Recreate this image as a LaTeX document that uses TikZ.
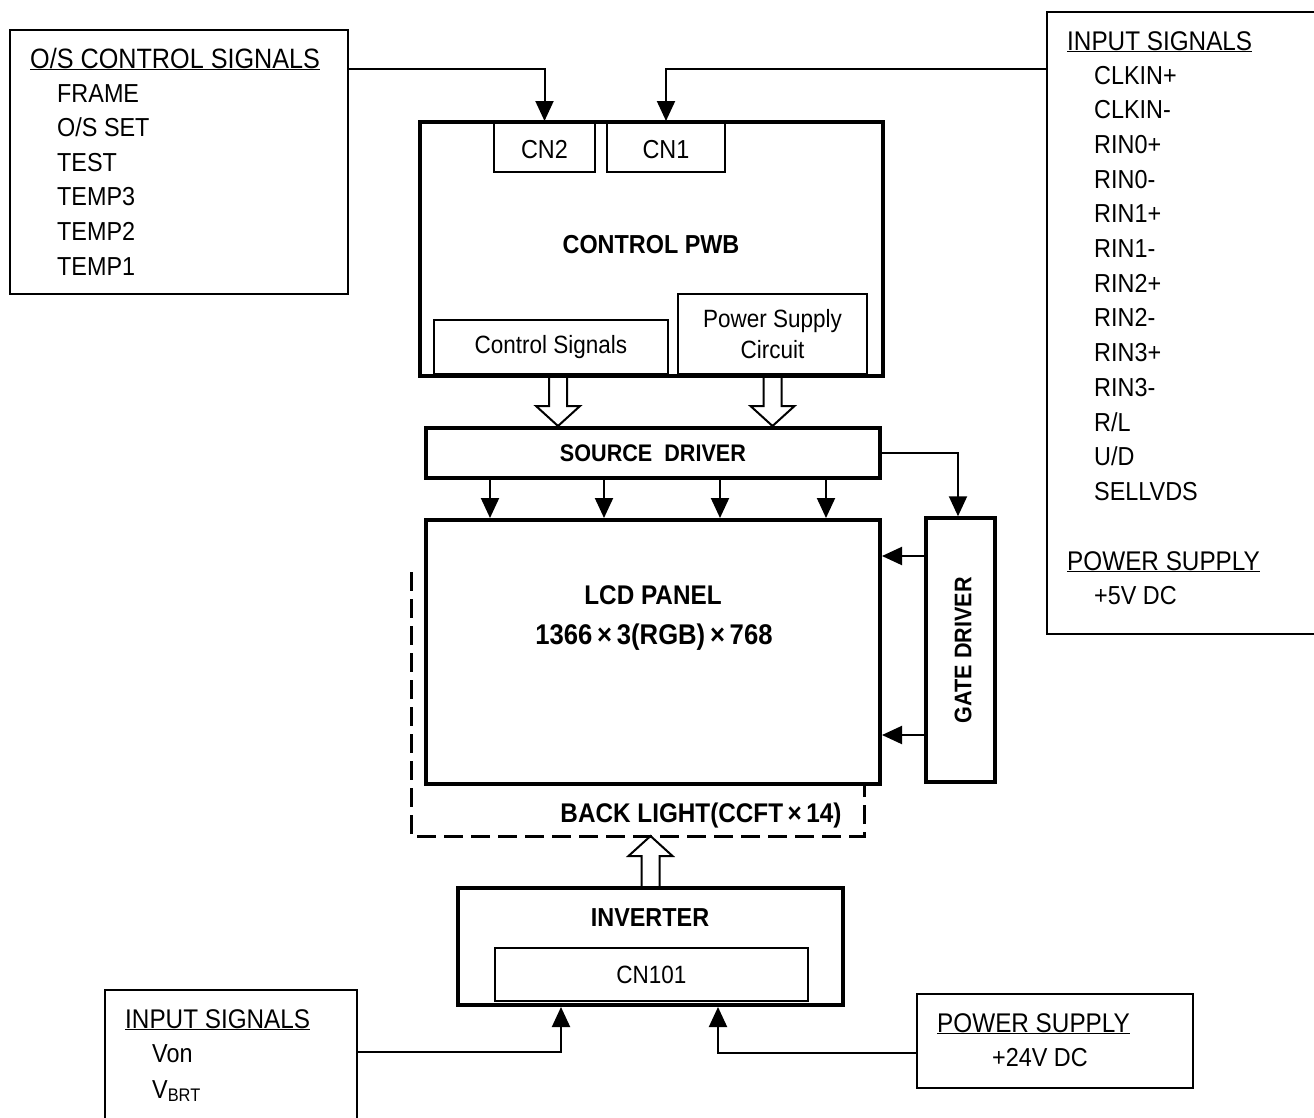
\documentclass[tikz,border=0pt]{standalone}
\usepackage{fontspec}
\setmainfont{Liberation Sans}[FakeStretch=0.9]
\usepackage{tikz}
\usetikzlibrary{arrows.meta, positioning, calc}

% hollow block arrow between two anchors (vertical)
\newcommand{\fatarrow}[2]{%
  \coordinate (fa-b) at (#1);
  \coordinate (fa-t) at (#2 -| fa-b);
  \coordinate (fa-h) at ($(fa-t)!20pt!(fa-b)$);
  \draw[hollow] ([xshift=-9pt]fa-b) -- ([xshift=-9pt]fa-h) -- ([xshift=-22pt]fa-h)
    -- (fa-t) -- ([xshift=22pt]fa-h) -- ([xshift=9pt]fa-h) -- ([xshift=9pt]fa-b);}

\begin{document}
\begin{tikzpicture}[
        x=1pt, y=-1pt,
        box/.style={draw, line width=2pt, inner sep=0pt},
        heavybox/.style={draw, line width=4pt, inner sep=0pt},
        item/.style={anchor=base west, inner sep=0pt, font=\fontsize{26}{30}\selectfont},
        head/.style={anchor=base west, inner sep=0pt, font=\fontsize{27}{32}\selectfont},
        sublabel/.style={inner sep=0pt, align=center, font=\fontsize{25}{31}\selectfont},
        title/.style={inner sep=0pt, font=\bfseries\fontsize{26}{30}\selectfont},
        arr/.style={-{Triangle[length=20pt, width=18pt]}, line width=2pt},
        hollow/.style={line width=2pt, line join=miter},
        dashline/.style={line width=3pt, dash pattern=on 19pt off 8pt},
    ]
        \clip (0,0) rectangle (1314,1117);

        % O/S control signals (top left)
        \node[box, minimum width=338, minimum height=264] (osbox) at (179,162) {};
        \node[head, font=\fontsize{28}{32}\selectfont] (oshead) at (30,68) {\underline{O/S CONTROL SIGNALS}};
        \foreach \t [count=\i] in {FRAME, O/S SET, TEST, TEMP3, TEMP2, TEMP1}
            \node[item] (os\i) at (57,{67.4+34.6*\i}) {\t};

        % input signals (top right)
        \node[box, minimum width=283, minimum height=622] (inbox) at (1188.5,323) {};
        \node[head] (inhead) at (1067,50) {\underline{INPUT SIGNALS}};
        \foreach \t [count=\i] in {CLKIN+, CLKIN-, RIN0+, RIN0-, RIN1+, RIN1-, RIN2+,
                RIN2-, RIN3+, RIN3-, R/L, U/D, SELLVDS}
            \node[item] (in\i) at (1094,{49.3+34.7*\i}) {\t};
        \node[head] (pshead) at (1067,570) {\underline{POWER SUPPLY}};
        \node[item] (ps5v) at (1094,604) {+5V DC};

        % control PWB
        \node[heavybox, minimum width=463, minimum height=254] (pwb) at (651.5,249) {};
        \node[box, minimum width=101, minimum height=50] (cn2) at (544.5,147) {};
        \node[item, anchor=center] at ([yshift=-3pt]cn2.center) {CN2};
        \node[box, minimum width=118, minimum height=50] (cn1) at (666,147) {};
        \node[item, anchor=center] at ([yshift=-3pt]cn1.center) {CN1};
        \node[title] (pwbtitle) at (651,245) {CONTROL PWB};
        \node[box, sublabel, minimum width=234, minimum height=54] (ctrlsig) at (551,347) {Control Signals};
        \node[box, sublabel, minimum width=189, minimum height=80] (pwrcirc) at (772.5,334) {Power Supply\\Circuit};

        % drivers and panel
        \node[heavybox, minimum width=454, minimum height=50, font=\bfseries\fontsize{24}{28}\selectfont]
            (srcdrv) at (653,453) {SOURCE\ \ DRIVER};
        \node[heavybox, minimum width=454, minimum height=264] (lcd) at (653,652) {};
        \node[title, font=\bfseries\fontsize{27}{30}\selectfont] (lcdtitle) at (653,595) {LCD PANEL};
        \node[title, font=\bfseries\fontsize{28.5}{32}\selectfont] (lcdres) at (654,637) {1366\,×\,3(RGB)\,×\,768};
        \node[heavybox, line width=3.5pt, minimum width=69, minimum height=264] (gatedrv) at (960.5,650) {};
        \node[title, rotate=90, font=\bfseries\fontsize{24}{28}\selectfont] (gatetitle) at (963,650) {GATE DRIVER};

        % back light (dashed)
        \coordinate (blL) at (411,572);
        \coordinate (blB) at (650,836);
        \coordinate (blR) at (864,836);
        \draw[dashline] (blL) -- (blL |- blB) -- (blR) -- (lcd.south -| blR);
        \node[title, font=\bfseries\fontsize{27}{30}\selectfont] (bltitle) at (701,816) {BACK LIGHT(CCFT\,×\,14)};

        % inverter
        \node[heavybox, minimum width=385, minimum height=117] (inverter) at (650.5,946.5) {};
        \node[title] (invtitle) at (650,918) {INVERTER};
        \node[box, sublabel, minimum width=313, minimum height=53] (cn101) at (651.5,974.5) {CN101};

        % inverter inputs (bottom)
        \node[box, minimum width=252, minimum height=150] (invin) at (231,1065) {};
        \node[head] (invinhead) at (125,1028) {\underline{INPUT SIGNALS}};
        \node[item] (von) at (152,1062) {Von};
        \node[item] (vbrt) at (152,1098) {V\textsubscript{BRT}};
        \node[box, minimum width=276, minimum height=94] (pwr24) at (1055,1041) {};
        \node[head] (pwr24head) at (937,1032) {\underline{POWER SUPPLY}};
        \node[item, anchor=base] (pwr24v) at (1040,1066) {+24V DC};

        % signal arrows
        \draw[arr] ([yshift=-40pt]osbox.north east) -| (cn2.north);
        \draw[arr] ([yshift=-58pt]inbox.north west) -| (cn1.north);
        \draw[arr] (srcdrv.east) -| ([xshift=-2.5pt]gatedrv.north);
        \foreach \x in {490,604,720,826} {
            \coordinate (col) at (\x,0);
            \draw[arr] (srcdrv.south -| col) -- (lcd.north -| col);
        }
        \foreach \y in {556,735} {
            \coordinate (row) at (0,\y);
            \draw[arr] (gatedrv.west |- row) -- (lcd.east |- row);
        }
        \draw[arr] ([yshift=-63pt]invin.north east) -| ([xshift=-89.5pt]inverter.south);
        \draw[arr] ([yshift=-12pt]pwr24.west) -| ([xshift=67.5pt]inverter.south);

        % hollow arrows
        \fatarrow{[xshift=7pt]ctrlsig.south}{srcdrv.north}
        \fatarrow{pwrcirc.south}{srcdrv.north}
        \fatarrow{inverter.north}{blB}
    \end{tikzpicture}
\end{document}
